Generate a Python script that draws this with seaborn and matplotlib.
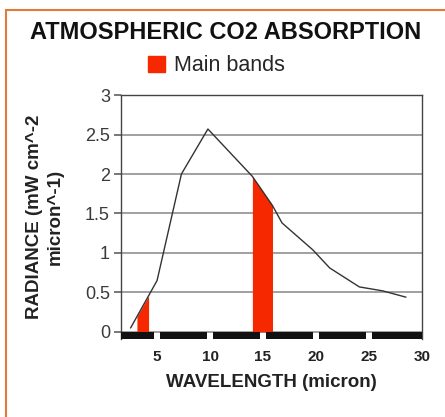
import numpy as np
import pandas as pd
import matplotlib.pyplot as plt
import matplotlib.patches as mpatches
import seaborn as sns

# datos
wavelength = [2.5, 5.0, 7.3, 9.8, 14.0, 15.9, 16.8, 19.7, 21.3, 24.1, 26.3, 28.5]
radiance = [0.05, 0.65, 2.0, 2.57, 1.97, 1.6, 1.38, 1.04, 0.81, 0.57, 0.52, 0.44]
bands = [(3.1, 4.2), (14.0, 15.9)]
x_ticks = [5, 10, 15, 20, 25, 30]
y_ticks = [0, 0.5, 1, 1.5, 2, 2.5, 3]

data = pd.DataFrame({'wavelength': wavelength, 'radiance': radiance})

sns.set_theme(style='white')
plt.rcParams['font.family'] = ['Liberation Sans', 'DejaVu Sans']

fig = plt.figure(figsize=(4.45, 4.17), dpi=100)
ax = fig.add_axes([0.272, 0.187, 0.676, 0.585])

# bandas principales en rojo
for b0, b1 in bands:
    xs = np.linspace(b0, b1, 50)
    ax.fill_between(xs, 0, np.interp(xs, wavelength, radiance),
                    color='#f52800', lw=0, zorder=2)

sns.lineplot(x='wavelength', y='radiance', data=data, color='#333333',
             lw=1.0, ax=ax, zorder=3)

ax.set_xlim(1.6, 30)
ax.set_ylim(-0.09, 3)

# barra negra en la base, cortada en cada tick
edges = [ax.get_xlim()[0]] + x_ticks[:-1]
ends = x_ticks[:-1] + [ax.get_xlim()[1]]
segs = []
for a, b in zip(edges, ends):
    a2 = a + 0.25 if a in x_ticks else a
    b2 = b - 0.25 if b in x_ticks[:-1] else b
    segs.append((a2, b2 - a2))
ax.broken_barh(segs, (-0.095, 0.095), color='#111111', lw=0, zorder=4)

ax.set_xticks(x_ticks)
ax.set_yticks(y_ticks)
ax.set_yticklabels(['0', '0.5', '1', '1.5', '2', '2.5', '3'])
ax.yaxis.grid(True, color='#999999', lw=1.3)
ax.set_axisbelow(True)
for s in ax.spines.values():
    s.set_color('#444444')
    s.set_linewidth(1.0)
ax.spines['bottom'].set_visible(False)
ax.tick_params(axis='y', length=5, color='#666666', labelsize=13,
               labelcolor='#3a3a3a', pad=3, left=True)
ax.tick_params(axis='x', length=0, labelsize=11, pad=8, labelcolor='#222222')
for lbl in ax.get_xticklabels():
    lbl.set_fontweight('bold')

ax.set_xlabel('WAVELENGTH (micron)', fontsize=13.5, fontweight='bold',
              color='#222222', labelpad=7)
ax.set_ylabel('RADIANCE (mW cm^-2\nmicron^-1)', fontsize=13.5,
              fontweight='bold', color='#222222', labelpad=15,
              linespacing=1.3)

fig.text(0.506, 0.923, 'ATMOSPHERIC CO2 ABSORPTION', ha='center',
         va='center', fontsize=17, fontweight='bold', color='#111111')

handle = mpatches.Patch(color='#f52800', label='Main bands')
fig.legend(handles=[handle], loc='center', bbox_to_anchor=(0.487, 0.842),
           frameon=False, fontsize=15.5, handlelength=0.75, handleheight=0.75,
           handletextpad=0.45)

# borde naranja
fig.patches.append(mpatches.Rectangle((6 / 445, -0.1), 1.2, 1.1 - 10 / 417,
                                      transform=fig.transFigure, fill=False,
                                      edgecolor='#e07b39', lw=1.5))

plt.savefig('out.png', dpi=100)
